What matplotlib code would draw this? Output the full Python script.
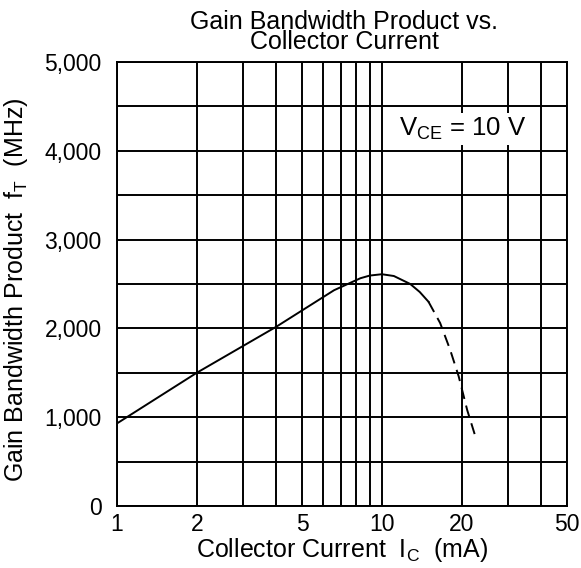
import numpy as np
import matplotlib
matplotlib.use("Agg")
import matplotlib.pyplot as plt
from matplotlib.ticker import FixedLocator, NullLocator

# ---- dati ----
ic_solid = [1, 2, 4, 6.6, 8.3, 9.0, 10, 11.1, 12.8, 13.9, 15]
ft_solid = [930, 1500, 2020, 2430, 2565, 2595, 2610, 2590, 2500, 2410, 2300]
ic_dash = [15, 16.6, 18.1, 19.5, 21, 22.4]
ft_dash = [2300, 2060, 1760, 1460, 1080, 810]

x_ticks = [1, 2, 5, 10, 20, 50]
x_grid = [1, 2, 3, 4, 5, 6, 7, 8, 9, 10, 20, 30, 40, 50]
y_ticks = [0, 1000, 2000, 3000, 4000, 5000]
y_grid = np.arange(0, 5001, 500)

plt.rcParams['font.family'] = ['Liberation Sans', 'DejaVu Sans']
plt.rcParams['mathtext.fontset'] = 'custom'
plt.rcParams['mathtext.rm'] = 'Liberation Sans'

fig = plt.figure(figsize=(5.81, 5.68), dpi=100)
ax = fig.add_axes([117 / 581, 1 - 506 / 568, 450 / 581, 444 / 568])

ax.set_xscale('log')
ax.set_xlim(1, 50)
ax.set_ylim(0, 5000)

# griglia
ax.xaxis.set_major_locator(FixedLocator(x_grid))
ax.xaxis.set_minor_locator(NullLocator())
ax.yaxis.set_major_locator(FixedLocator(y_grid))
ax.grid(True, which='major', color='black', lw=1.4)
ax.set_xticklabels([str(v) if v in x_ticks else '' for v in x_grid])
ax.set_yticklabels([f"{int(v):,}" if v in y_ticks else '' for v in y_grid])
ax.tick_params(length=0, labelsize=16.5)
ax.tick_params(axis='y', pad=11)
ax.tick_params(axis='x', pad=5)
for s in ax.spines.values():
    s.set_linewidth(1.4)

# curva
ax.plot(ic_solid, ft_solid, color='black', lw=1.4)
ax.plot(ic_dash, ft_dash, color='black', lw=1.4, linestyle=(0, (6, 3.5)))

ax.text(11.6, 4250, r"V$_{\mathrm{CE}}$ = 10 V", fontsize=18.5, va='center', ha='left',
        bbox=dict(fc='white', ec='none', pad=2))

fig.text(344 / 581, 1 - 32 / 568, "Gain Bandwidth Product vs.\nCollector Current",
         ha='center', va='center', fontsize=18, linespacing=0.82)
fig.text(342 / 581, 1 - 550 / 568, r"Collector Current  I$_{\mathrm{C}}$  (mA)",
         ha='center', va='center', fontsize=18)
fig.text(16 / 581, 1 - 290 / 568, r"Gain Bandwidth Product  f$_{\mathrm{T}}$  (MHz)",
         ha='center', va='center', fontsize=18, rotation=90)

fig.savefig("out.png", dpi=100)
